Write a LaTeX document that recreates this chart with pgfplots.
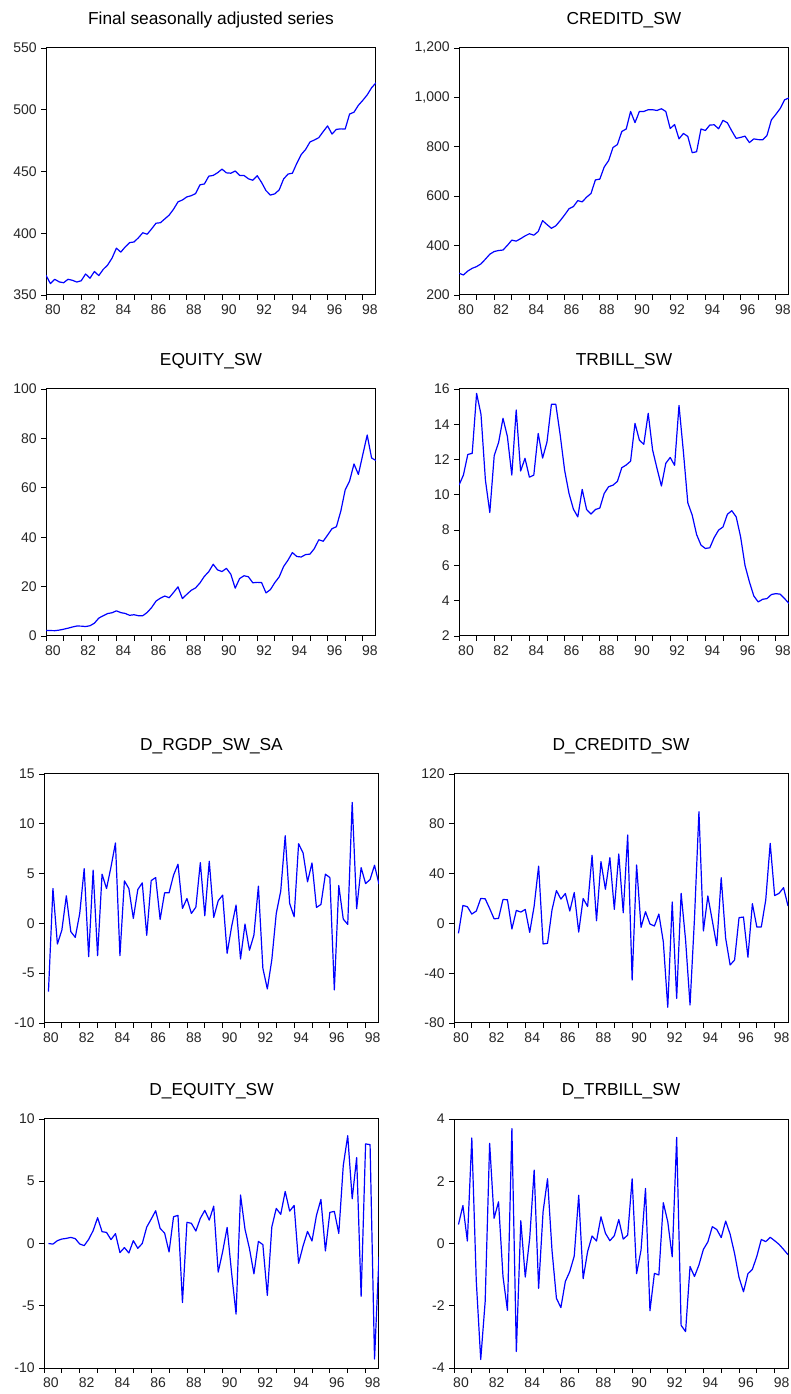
\documentclass[border=0pt]{standalone}
\usepackage{fontspec}
\setmainfont{Liberation Sans}
\usepackage{pgfplots}
\usepackage{pgfplotstable}
\pgfplotsset{compat=1.18}

\pgfplotstableread[row sep=\\]{y\\366\\359.2\\362.7\\360.6\\359.9\\362.7\\361.9\\360.5\\361.5\\367.0\\363.6\\369.0\\365.7\\370.7\\374.2\\379.8\\387.9\\384.7\\388.9\\392.4\\392.9\\396.3\\400.4\\399.2\\403.5\\408.1\\408.5\\411.6\\414.7\\419.5\\425.4\\426.9\\429.4\\430.4\\432.1\\439.2\\439.9\\446.2\\446.8\\449.0\\451.9\\448.9\\448.6\\450.4\\446.8\\446.8\\444.1\\442.9\\446.6\\441.1\\434.5\\430.9\\431.9\\435.1\\443.9\\447.9\\448.6\\456.6\\463.7\\467.8\\473.9\\475.5\\477.4\\482.3\\486.9\\480.3\\484.1\\484.5\\484.4\\496.5\\498.0\\503.6\\507.6\\512.0\\517.8\\521.8\\}\rgdp

\pgfplotstableread[row sep=\\]{y\\288\\281\\297\\308\\315\\326\\345\\365\\376\\380\\382\\401\\422\\418\\428\\439\\448\\442\\457\\501\\485\\470\\480\\501\\524\\549\\558\\582\\577\\596\\611\\666\\669\\718\\744\\797\\809\\862\\872\\943\\898\\943\\943\\950\\950\\947\\954\\943\\874\\890\\832\\854\\842\\776\\780\\872\\866\\888\\889\\873\\907\\897\\864\\834\\838\\843\\817\\832\\829\\828\\846\\909\\931\\955\\990\\998\\}\credit

\pgfplotstableread[row sep=\\]{y\\2.2\\2.2\\2.15\\2.38\\2.74\\3.15\\3.64\\4.03\\3.99\\3.82\\4.15\\5.18\\7.25\\8.2\\9.09\\9.4\\10.19\\9.46\\9.13\\8.37\\8.6\\8.21\\8.21\\9.53\\11.49\\14.12\\15.33\\16.17\\15.49\\17.64\\19.9\\15.16\\16.86\\18.48\\19.48\\21.5\\24.16\\26.04\\29.04\\26.74\\26.09\\27.38\\25.02\\19.35\\23.24\\24.39\\23.98\\21.54\\21.71\\21.62\\17.45\\18.77\\21.59\\23.93\\28.11\\30.71\\33.77\\32.18\\31.98\\32.95\\33.15\\35.41\\38.95\\38.35\\40.85\\43.43\\44.24\\50.5\\59.16\\62.75\\69.65\\65.41\\73.41\\81.35\\72.07\\71.02\\}\equity

\pgfplotstableread[row sep=\\]{y\\10.55\\11.12\\12.29\\12.35\\15.75\\14.56\\10.84\\9.0\\12.22\\12.97\\14.34\\13.3\\11.12\\14.81\\11.35\\12.07\\11.0\\11.12\\13.48\\12.08\\13.0\\15.13\\15.13\\13.39\\11.4\\10.08\\9.19\\8.75\\10.31\\9.17\\8.91\\9.17\\9.25\\10.08\\10.46\\10.55\\10.76\\11.54\\11.69\\11.91\\14.05\\13.1\\12.86\\14.62\\12.54\\11.5\\10.5\\11.79\\12.12\\11.67\\15.07\\12.44\\9.55\\8.85\\7.75\\7.15\\6.96\\7.0\\7.58\\8.0\\8.18\\8.9\\9.1\\8.75\\7.62\\6.0\\5.07\\4.27\\3.93\\4.08\\4.12\\4.35\\4.4\\4.37\\4.12\\3.84\\}\trbill

\pgfplotstableread[row sep=\\]{y\\-6.84\\3.5\\-2.07\\-0.67\\2.77\\-0.83\\-1.4\\1.0\\5.5\\-3.34\\5.34\\-3.24\\4.94\\3.5\\5.67\\8.08\\-3.24\\4.27\\3.5\\0.5\\3.4\\4.07\\-1.2\\4.3\\4.6\\0.4\\3.07\\3.07\\4.84\\5.94\\1.5\\2.5\\1.0\\1.63\\6.1\\0.77\\6.24\\0.6\\2.27\\2.84\\-3.0\\-0.33\\1.84\\-3.57\\-0.07\\-2.7\\-1.17\\3.74\\-4.5\\-6.58\\-3.67\\1.0\\3.24\\8.8\\2.0\\0.67\\8.0\\7.07\\4.17\\6.07\\1.6\\1.9\\4.94\\4.6\\-6.68\\3.8\\0.43\\-0.1\\12.15\\1.47\\5.6\\4.0\\4.4\\5.84\\3.94\\}\drgdp

\pgfplotstableread[row sep=\\]{y\\-8\\14.4\\13.4\\7.5\\9.9\\20\\19.8\\12\\3.7\\4\\19.2\\19\\-4.5\\10.4\\9.1\\11.2\\-7.2\\14\\46\\-16.5\\-16\\10.7\\26.4\\19.5\\24\\9.9\\24.8\\-7\\20\\13.6\\54.7\\2.1\\49.6\\27.4\\52.8\\11.3\\55.7\\8.6\\71\\-45.5\\46.9\\-3.2\\9.4\\-0.5\\-2.1\\7.5\\-14.7\\-67.4\\17.2\\-60.2\\24.2\\-13.3\\-65.5\\4\\89.7\\-6.1\\22\\2.2\\-17.9\\36.7\\-12\\-33.4\\-29.4\\4.6\\5.1\\-27.2\\15.8\\-2.9\\-2.9\\18.8\\64.3\\22.3\\24.2\\28.7\\14\\}\dcredit

\pgfplotstableread[row sep=\\]{y\\0.0\\-0.05\\0.23\\0.36\\0.41\\0.49\\0.39\\-0.04\\-0.17\\0.33\\1.03\\2.07\\0.95\\0.89\\0.31\\0.79\\-0.73\\-0.33\\-0.76\\0.23\\-0.39\\0.0\\1.32\\1.96\\2.63\\1.21\\0.84\\-0.68\\2.15\\2.26\\-4.74\\1.7\\1.62\\1.0\\2.02\\2.66\\1.88\\3.0\\-2.3\\-0.65\\1.29\\-2.36\\-5.67\\3.89\\1.15\\-0.41\\-2.44\\0.17\\-0.09\\-4.17\\1.32\\2.82\\2.34\\4.18\\2.6\\3.06\\-1.59\\-0.2\\0.97\\0.2\\2.26\\3.54\\-0.6\\2.5\\2.58\\0.81\\6.26\\8.66\\3.59\\6.9\\-4.24\\8.0\\7.94\\-9.28\\-1.05\\}\dequity

\pgfplotstableread[row sep=\\]{y\\0.61\\1.22\\0.08\\3.39\\-1.2\\-3.73\\-1.86\\3.22\\0.81\\1.34\\-1.06\\-2.15\\3.69\\-3.47\\0.73\\-1.08\\0.17\\2.36\\-1.44\\1.02\\2.08\\-0.21\\-1.76\\-2.06\\-1.22\\-0.9\\-0.4\\1.55\\-1.13\\-0.26\\0.24\\0.08\\0.86\\0.33\\0.09\\0.25\\0.77\\0.14\\0.27\\2.08\\-0.97\\-0.21\\1.77\\-2.16\\-0.96\\-1.01\\1.31\\0.7\\-0.43\\3.41\\-2.63\\-2.83\\-0.74\\-1.06\\-0.69\\-0.19\\0.05\\0.54\\0.45\\0.19\\0.72\\0.3\\-0.32\\-1.09\\-1.55\\-0.97\\-0.83\\-0.41\\0.13\\0.06\\0.2\\0.09\\-0.03\\-0.19\\-0.36\\}\dtrbill

\pgfplotsset{
  ev/.style={
    scale only axis, anchor=south west,
    xmin=0, xmax=75,
    xtick={0,4,...,72},
    xticklabels={80,,82,,84,,86,,88,,90,,92,,94,,96,,98},
    tick align=outside, tick pos=left,
    major tick length=3.5pt,
    tick style={black, line width=0.6pt},
    axis line style={black, line width=0.75pt},
    xticklabel style={xshift=5.25pt},
    tick label style={font=\fontsize{10.5}{12}\selectfont, text=black!85},
    title style={font=\fontsize{13}{15}\selectfont, anchor=base, at={(0.5,1)}, yshift=11.5pt},
    /pgf/number format/assume math mode=true,
    /pgf/number format/1000 sep={,},
    scaled y ticks=false,
    every axis plot/.append style={color={rgb,255:red,0;green,0;blue,255}, line width=0.9pt, no marks, line join=round},
  }
}

\begin{document}
\begin{tikzpicture}
\path[use as bounding box] (0pt,0pt) rectangle (592.5pt,1045.5pt);

\begin{axis}[ev, at={(34.5pt,824.25pt)}, width=247.5pt, height=185.25pt,
  title={Final seasonally adjusted series}, ymin=350, ymax=550, ytick={350,400,...,550}]
  \addplot table[x expr=\coordindex, y=y] {\rgdp};
\end{axis}

\begin{axis}[ev, at={(344.25pt,824.25pt)}, width=247.5pt, height=185.25pt,
  title={CREDITD\_SW}, ymin=200, ymax=1200, ytick={200,400,...,1200}]
  \addplot table[x expr=\coordindex, y=y] {\credit};
\end{axis}

\begin{axis}[ev, at={(34.5pt,568.5pt)}, width=247.5pt, height=185.25pt,
  title={EQUITY\_SW}, ymin=0, ymax=100, ytick={0,20,...,100}]
  \addplot table[x expr=\coordindex, y=y] {\equity};
\end{axis}

\begin{axis}[ev, at={(344.25pt,568.5pt)}, width=247.5pt, height=185.25pt,
  title={TRBILL\_SW}, ymin=2, ymax=16, ytick={2,4,...,16}]
  \addplot table[x expr=\coordindex, y=y] {\trbill};
\end{axis}

\begin{axis}[ev, at={(33pt,278.25pt)}, width=251.25pt, height=186.75pt,
  title={D\_RGDP\_SW\_SA}, ymin=-10, ymax=15, ytick={-10,-5,...,15}]
  \addplot table[x expr=\coordindex+1, y=y] {\drgdp};
\end{axis}

\begin{axis}[ev, at={(340.5pt,278.25pt)}, width=250.5pt, height=186.75pt,
  title={D\_CREDITD\_SW}, ymin=-80, ymax=120, ytick={-80,-40,...,120}]
  \addplot table[x expr=\coordindex+1, y=y] {\dcredit};
\end{axis}

\begin{axis}[ev, at={(33pt,19.5pt)}, width=251.25pt, height=186.75pt,
  title={D\_EQUITY\_SW}, ymin=-10, ymax=10, ytick={-10,-5,...,10}]
  \addplot table[x expr=\coordindex+1, y=y] {\dequity};
\end{axis}

\begin{axis}[ev, at={(340.5pt,19.5pt)}, width=250.5pt, height=186.75pt,
  title={D\_TRBILL\_SW}, ymin=-4, ymax=4, ytick={-4,-2,...,4}]
  \addplot table[x expr=\coordindex+1, y=y] {\dtrbill};
\end{axis}

\end{tikzpicture}
\end{document}
